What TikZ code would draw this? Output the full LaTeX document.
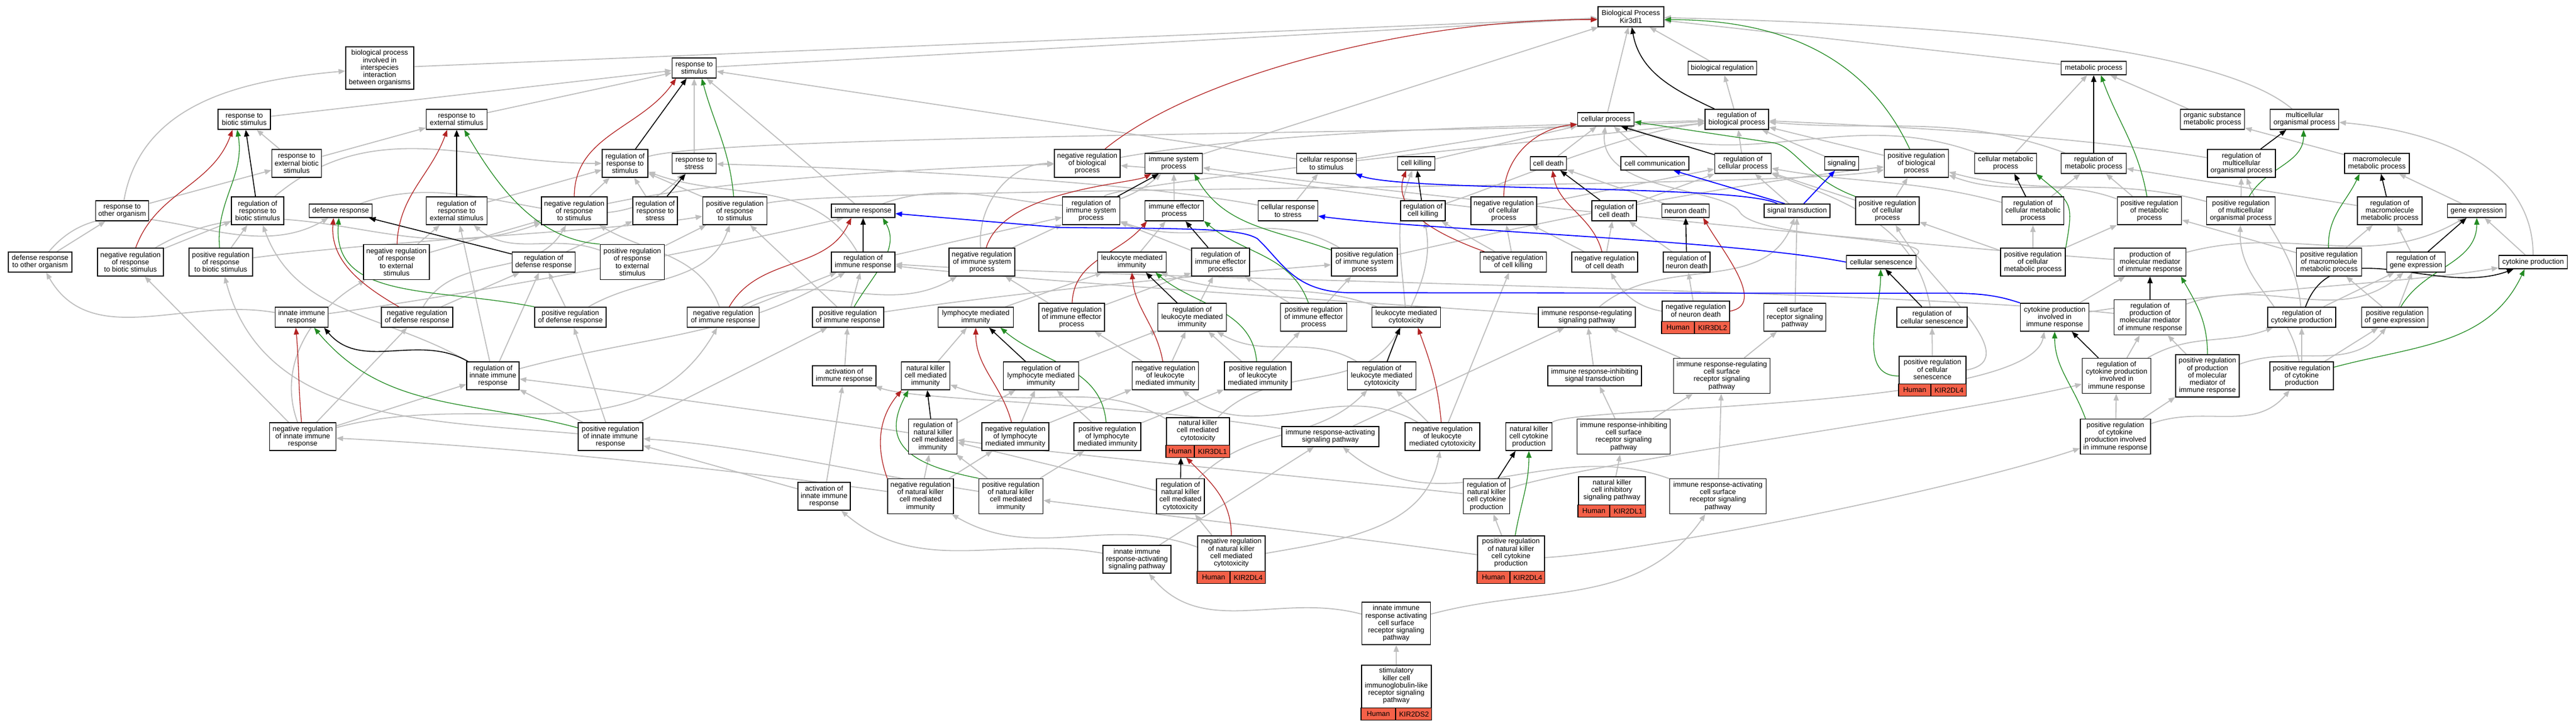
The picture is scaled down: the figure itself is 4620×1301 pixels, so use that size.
\documentclass[tikz,border=0pt]{standalone}
\usepackage{fontspec}
\setmainfont{Liberation Sans}
\usetikzlibrary{arrows.meta,calc}
\definecolor{eg}{RGB}{190,190,190}
\definecolor{er}{RGB}{178,34,34}
\definecolor{egr}{RGB}{34,139,34}
\definecolor{eb}{RGB}{0,0,255}
\definecolor{genered}{RGB}{244,96,72}
\pgfdeclarelayer{bglayer}
\pgfdeclarelayer{edgelayer}
\pgfsetlayers{bglayer,edgelayer,main}
\newcommand\gofont{\fontsize{6.4}{6.65}\selectfont}
\tikzset{
 gobox/.style={draw=black, line width=0.8pt, fill=white, inner sep=0pt, align=center, font=\gofont},
 gotext/.style={inner sep=0pt, align=center, font=\gofont},
 strip/.style={draw=black, line width=0.8pt, fill=genered},
 ge/.style={color=eg, line width=0.9pt, -{Triangle[length=6pt,width=4.6pt]}},
 bk/.style={color=black, line width=0.8pt, -{Triangle[length=6pt,width=4.6pt]}},
 rd/.style={color=er, line width=0.65pt, -{Triangle[length=6pt,width=4.6pt]}},
 gr/.style={color=egr, line width=0.65pt, -{Triangle[length=6pt,width=4.6pt]}},
 bl/.style={color=eb, line width=0.9pt, -{Triangle[length=6pt,width=4.6pt]}},
}
\newcommand\gonode[6]{\node[gobox, minimum width=#4*0.5pt, minimum height=#5*0.5pt] (#1) at (#2,-#3) {#6};}
\newcommand\genenode[8]{%
 \node[gobox, anchor=north west, minimum width=#4*0.5pt, minimum height=(#5+22)*0.5pt] (#1) at (#2,-#3) {};
 \node[gotext] at ($(#1.north)+(0,-#5/2)$) {#7};
 \filldraw[strip] (#1.south west) rectangle ($(#1.south west)+(#6,22)$);
 \filldraw[strip] ($(#1.south west)+(#6,0)$) rectangle ($(#1.south east)+(0,22)$);
 \node[gotext] at ($(#1.south west)+({#6/2},11)$) {Human};
 \node[gotext] at ($(#1.south east)+({-(#4-#6)/2},11)$) {#8};
}
\begin{document}
\begin{tikzpicture}[x=0.5pt,y=0.5pt]
\useasboundingbox (0,0) rectangle (4620,-1301);
\begin{pgfonlayer}{bglayer}\fill[white] (0,0) rectangle (4620,-1301);\end{pgfonlayer}
\gonode{n1}{681}{122}{122}{76}{biological process\\involved in\\interspecies\\interaction\\between organisms}
\gonode{n2}{438}{214}{94}{36}{response to\\biotic stimulus}
\gonode{n3}{819}{214}{109}{36}{response to\\external stimulus}
\gonode{n4}{532}{293}{89}{50}{response to\\external biotic\\stimulus}
\gonode{n5}{219}{378}{95}{36}{response to\\other organism}
\gonode{n6}{462}{378}{94}{50}{regulation of\\response to\\biotic stimulus}
\gonode{n7}{611}{378}{113}{24}{defense response}
\gonode{n8}{819}{378}{109}{50}{regulation of\\response to\\external stimulus}
\gonode{n9}{1030}{378}{118}{50}{negative regulation\\of response\\to stimulus}
\gonode{n10}{1121}{293}{82}{50}{regulation of\\response to\\stimulus}
\gonode{n11}{1175}{378}{80}{50}{regulation of\\response to\\stress}
\gonode{n12}{72}{470}{114}{36}{defense response\\to other organism}
\gonode{n13}{234}{470}{118}{50}{negative regulation\\of response\\to biotic stimulus}
\gonode{n14}{396}{470}{114}{50}{positive regulation\\of response\\to biotic stimulus}
\gonode{n15}{711}{470}{118}{63}{negative regulation\\of response\\to external\\stimulus}
\gonode{n16}{975}{470}{113}{36}{regulation of\\defense response}
\gonode{n17}{1134}{470}{115}{63}{positive regulation\\of response\\to external\\stimulus}
\gonode{n18}{541}{569}{95}{36}{innate immune\\response}
\gonode{n19}{748}{569}{128}{36}{negative regulation\\of defense response}
\gonode{n20}{1023}{569}{128}{36}{positive regulation\\of defense response}
\gonode{n21}{884}{674}{94}{50}{regulation of\\innate immune\\response}
\gonode{n22}{543}{783}{119}{50}{negative regulation\\of innate immune\\response}
\gonode{n23}{1095}{783}{116}{50}{positive regulation\\of innate immune\\response}
\gonode{n24}{1245}{122}{79}{36}{response to\\stimulus}
\gonode{n25}{1245}{293}{79}{36}{response to\\stress}
\gonode{n26}{1318}{378}{115}{50}{positive regulation\\of response\\to stimulus}
\gonode{n27}{1548}{378}{114}{24}{immune response}
\gonode{n28}{1548}{470}{114}{36}{regulation of\\immune response}
\gonode{n29}{1761}{470}{118}{50}{negative regulation\\of immune system\\process}
\gonode{n30}{1950}{293}{118}{50}{negative regulation\\of biological\\process}
\gonode{n31}{2105}{293}{103}{36}{immune system\\process}
\gonode{n32}{1957}{378}{103}{50}{regulation of\\immune system\\process}
\gonode{n33}{2106}{378}{105}{36}{immune effector\\process}
\gonode{n34}{2310}{378}{107}{36}{cellular response\\to stress}
\gonode{n35}{2030}{470}{123}{36}{leukocyte mediated\\immunity}
\gonode{n36}{2189}{470}{104}{50}{regulation of\\immune effector\\process}
\gonode{n37}{1297}{569}{129}{36}{negative regulation\\of immune response}
\gonode{n38}{1521}{569}{128}{36}{positive regulation\\of immune response}
\gonode{n39}{1750}{569}{135}{36}{lymphocyte mediated\\immunity}
\gonode{n40}{1922}{569}{118}{50}{negative regulation\\of immune effector\\process}
\gonode{n41}{2138}{569}{123}{50}{regulation of\\leukocyte mediated\\immunity}
\gonode{n42}{2356}{569}{119}{50}{positive regulation\\of immune effector\\process}
\gonode{n43}{1514}{674}{114}{36}{activation of\\immune response}
\gonode{n44}{1660}{674}{87}{50}{natural killer\\cell mediated\\immunity}
\gonode{n45}{1867}{674}{135}{50}{regulation of\\lymphocyte mediated\\immunity}
\gonode{n46}{2090}{674}{119}{50}{negative regulation\\of leukocyte\\mediated immunity}
\gonode{n47}{2256}{674}{120}{50}{positive regulation\\of leukocyte\\mediated immunity}
\gonode{n48}{1673}{783}{87}{63}{regulation of\\natural killer\\cell mediated\\immunity}
\gonode{n49}{1821}{783}{120}{50}{negative regulation\\of lymphocyte\\mediated immunity}
\gonode{n50}{1986}{783}{120}{50}{positive regulation\\of lymphocyte\\mediated immunity}
\genenode{n51}{2091}{748}{113}{49}{51}{natural killer\\cell mediated\\cytotoxicity}{KIR3DL1}
\gonode{n52}{1478}{890}{94}{50}{activation of\\innate immune\\response}
\gonode{n53}{1651}{890}{118}{63}{negative regulation\\of natural killer\\cell mediated\\immunity}
\gonode{n54}{1813}{890}{115}{63}{positive regulation\\of natural killer\\cell mediated\\immunity}
\gonode{n55}{2117}{890}{86}{63}{regulation of\\natural killer\\cell mediated\\cytotoxicity}
\gonode{n56}{2039}{1003}{122}{50}{innate immune\\response-activating\\signaling pathway}
\genenode{n57}{2147}{960}{121}{63}{59}{negative regulation\\of natural killer\\cell mediated\\cytotoxicity}{KIR2DL4}
\gonode{n58}{2925}{30}{118}{36}{Biological Process\\Kir3dl1}
\gonode{n59}{3089}{122}{123}{24}{biological regulation}
\gonode{n60}{2880}{214}{101}{24}{cellular process}
\gonode{n61}{3115}{214}{114}{36}{regulation of\\biological process}
\gonode{n62}{2379}{293}{107}{36}{cellular response\\to stimulus}
\gonode{n63}{2540}{293}{67}{24}{cell killing}
\gonode{n64}{2777}{293}{65}{24}{cell death}
\gonode{n65}{2968}{293}{122}{24}{cell communication}
\gonode{n66}{3126}{293}{101}{36}{regulation of\\cellular process}
\gonode{n67}{3303}{293}{61}{24}{signaling}
\gonode{n68}{3437}{293}{115}{50}{positive regulation\\of biological\\process}
\gonode{n69}{2552}{378}{80}{36}{regulation of\\cell killing}
\gonode{n70}{2697}{378}{118}{50}{negative regulation\\of cellular\\process}
\gonode{n71}{2895}{378}{80}{36}{regulation of\\cell death}
\gonode{n72}{3023}{378}{85}{24}{neuron death}
\gonode{n73}{3223}{378}{118}{24}{signal transduction}
\gonode{n74}{3385}{378}{114}{50}{positive regulation\\of cellular\\process}
\gonode{n75}{2447}{470}{118}{50}{positive regulation\\of immune system\\process}
\gonode{n76}{2714}{470}{119}{36}{negative regulation\\of cell killing}
\gonode{n77}{2878}{470}{118}{36}{negative regulation\\of cell death}
\gonode{n78}{3025}{470}{84}{36}{regulation of\\neuron death}
\gonode{n79}{3374}{470}{125}{24}{cellular senescence}
\gonode{n80}{2522}{569}{123}{36}{leukocyte mediated\\cytotoxicity}
\gonode{n81}{2846}{569}{174}{36}{immune response-regulating\\signaling pathway}
\genenode{n82}{2980}{539}{121}{36}{59}{negative regulation\\of neuron death}{KIR3DL2}
\gonode{n83}{3219}{569}{111}{50}{cell surface\\receptor signaling\\pathway}
\gonode{n84}{3465}{569}{126}{36}{regulation of\\cellular senescence}
\gonode{n85}{2478}{674}{123}{50}{regulation of\\leukocyte mediated\\cytotoxicity}
\gonode{n86}{2860}{674}{168}{36}{immune response-inhibiting\\signal transduction}
\gonode{n87}{3088}{674}{173}{63}{immune response-regulating\\cell surface\\receptor signaling\\pathway}
\genenode{n88}{3405}{638}{120}{49}{58}{positive regulation\\of cellular\\senescence}{KIR2DL4}
\gonode{n89}{2386}{783}{174}{36}{immune response-activating\\signaling pathway}
\gonode{n90}{2587}{783}{134}{50}{negative regulation\\of leukocyte\\mediated cytotoxicity}
\gonode{n91}{2742}{783}{83}{50}{natural killer\\cell cytokine\\production}
\gonode{n92}{2912}{783}{167}{63}{immune response-inhibiting\\cell surface\\receptor signaling\\pathway}
\gonode{n93}{2666}{890}{83}{63}{regulation of\\natural killer\\cell cytokine\\production}
\genenode{n94}{2830}{854}{120}{50}{57}{natural killer\\cell inhibitory\\signaling pathway}{KIR2DL1}
\gonode{n95}{3081}{890}{173}{63}{immune response-activating\\cell surface\\receptor signaling\\pathway}
\genenode{n96}{2649}{960}{120}{63}{59}{positive regulation\\of natural killer\\cell cytokine\\production}{KIR2DL4}
\gonode{n97}{2504}{1118}{123}{76}{innate immune\\response activating\\cell surface\\receptor signaling\\pathway}
\genenode{n98}{2441}{1192}{125}{76}{62}{stimulatory\\killer cell\\immunoglobulin-like\\receptor signaling\\pathway}{KIR2DS2}
\gonode{n99}{3755}{122}{117}{24}{metabolic process}
\gonode{n100}{3968}{214}{115}{36}{organic substance\\metabolic process}
\gonode{n101}{4133}{214}{123}{36}{multicellular\\organismal process}
\gonode{n102}{3597}{293}{111}{36}{cellular metabolic\\process}
\gonode{n103}{3755}{293}{117}{36}{regulation of\\metabolic process}
\gonode{n104}{4020}{293}{122}{50}{regulation of\\multicellular\\organismal process}
\gonode{n105}{4263}{293}{116}{36}{macromolecule\\metabolic process}
\gonode{n106}{3646}{378}{111}{50}{regulation of\\cellular metabolic\\process}
\gonode{n107}{3855}{378}{115}{50}{positive regulation\\of metabolic\\process}
\gonode{n108}{4019}{378}{123}{50}{positive regulation\\of multicellular\\organismal process}
\gonode{n109}{4286}{378}{116}{50}{regulation of\\macromolecule\\metabolic process}
\gonode{n110}{4442}{378}{105}{24}{gene expression}
\gonode{n111}{3646}{470}{116}{50}{positive regulation\\of cellular\\metabolic process}
\gonode{n112}{3856}{470}{129}{50}{production of\\molecular mediator\\of immune response}
\gonode{n113}{4177}{470}{117}{50}{positive regulation\\of macromolecule\\metabolic process}
\gonode{n114}{4333}{470}{105}{36}{regulation of\\gene expression}
\gonode{n115}{4543}{470}{123}{24}{cytokine production}
\gonode{n116}{3685}{569}{123}{50}{cytokine production\\involved in\\immune response}
\gonode{n117}{3856}{569}{129}{63}{regulation of\\production of\\molecular mediator\\of immune response}
\gonode{n118}{4128}{569}{122}{36}{regulation of\\cytokine production}
\gonode{n119}{4295}{569}{119}{36}{positive regulation\\of gene expression}
\gonode{n120}{3796}{674}{123}{63}{regulation of\\cytokine production\\involved in\\immune response}
\gonode{n121}{3959}{674}{114}{76}{positive regulation\\of production\\of molecular\\mediator of\\immune response}
\gonode{n122}{4128}{674}{114}{50}{positive regulation\\of cytokine\\production}
\gonode{n123}{3794}{783}{126}{63}{positive regulation\\of cytokine\\production involved\\in immune response}

\begin{pgfonlayer}{edgelayer}
% gray edges
\draw[ge] (n1) -- (n58);
\draw[ge] (n24) -- (n58);
\draw[ge] (n2) -- (n24);
\draw[ge] (n3) -- (n24);
\draw[ge] (n4) -- (n2);
\draw[ge] (n4) -- (n3);
\draw[ge] (n5) -- (n4);
\draw[ge] (n5) to[out=80,in=185] (n1);
\draw[ge] (n12) -- (n5);
\draw[ge] (n12) to[out=50,in=-150] (n7);
\draw[ge] (n7) to[out=20,in=-135] (n25);
\draw[ge] (n6) to[out=40,in=180] (n10);
\draw[ge] (n13) -- (n6);
\draw[ge] (n13) to[out=30,in=-160] (n9);
\draw[ge] (n14) -- (n6);
\draw[ge] (n14) .. controls (700,-430) and (1100,-415) .. (n26);
\draw[ge] (n15) -- (n8);
\draw[ge] (n15) -- (n9);
\draw[ge] (n8) -- (n10);
\draw[ge] (n9) -- (n10);
\draw[ge] (n11) -- (n10);
\draw[ge] (n16) -- (n11);
\draw[ge] (n17) to[out=160,in=-40] (n8);
\draw[ge] (n17) -- (n26);
\draw[ge] (n18) .. controls (900,-520) and (1350,-430) .. (n27.-160);
\draw[ge] (n18) to[out=170,in=-60] (n12);
\draw[ge] (n19) -- (n16);
\draw[ge] (n19) to[out=60,in=-120] (n9);
\draw[ge] (n20) -- (n16);
\draw[ge] (n20) to[out=30,in=-110] (n26);
\draw[ge] (n21) to[out=15,in=-150] (n28);
\draw[ge] (n21) -- (n16);
\draw[ge] (n21) -- (n8);
\draw[ge] (n21) to[out=150,in=-70] (n6);
\draw[ge] (n22) -- (n21);
\draw[ge] (n22) to[out=15,in=-120] (n37);
\draw[ge] (n22) -- (n19);
\draw[ge] (n22) -- (n13);
\draw[ge] (n22) to[out=110,in=-150] (n15);
\draw[ge] (n23) -- (n21);
\draw[ge] (n23) -- (n38);
\draw[ge] (n23) -- (n20);
\draw[ge] (n23) to[out=175,in=-75] (n14);
\draw[ge] (n25) -- (n24);
\draw[ge] (n26) -- (n10);
\draw[ge] (n26) .. controls (1500,-335) and (3200,-340) .. (n68);
\draw[ge] (n27) to[out=20,in=-140] (n31);
\draw[ge] (n27) -- (n24);
\draw[ge] (n28) -- (n32);
\draw[ge] (n28) to[out=120,in=-20] (n10);
\draw[ge] (n29) -- (n32);
\draw[ge] (n29) to[out=95,in=180] (n30);
\draw[ge] (n30) .. controls (2300,-230) and (2800,-225) .. (n61);
\draw[ge] (n9) .. controls (1300,-320) and (1700,-300) .. (n30);
\draw[ge] (n10) .. controls (1300,-240) and (2700,-240) .. (n61);
\draw[ge] (n31) -- (n58);
\draw[ge] (n32) .. controls (2000,-330) and (2700,-260) .. (n61);
\draw[ge] (n33) -- (n31);
\draw[ge] (n34) .. controls (2000,-320) and (1500,-300) .. (n25);
\draw[ge] (n34) -- (n62);
\draw[ge] (n35) -- (n33);
\draw[ge] (n36) -- (n32);
\draw[ge] (n37) -- (n28);
\draw[ge] (n37) to[out=30,in=-150] (n29);
\draw[ge] (n37) to[out=110,in=-30] (n9);
\draw[ge] (n38) -- (n28);
\draw[ge] (n38) .. controls (1850,-520) and (2200,-490) .. (n75);
\draw[ge] (n38) -- (n26);
\draw[ge] (n39) -- (n35);
\draw[ge] (n40) -- (n36);
\draw[ge] (n40) -- (n29);
\draw[ge] (n41) -- (n36);
\draw[ge] (n42) -- (n36);
\draw[ge] (n42) -- (n75);
\draw[ge] (n43) -- (n38);
\draw[ge] (n44) -- (n39);
\draw[ge] (n45) -- (n41);
\draw[ge] (n46) -- (n41);
\draw[ge] (n46) -- (n40);
\draw[ge] (n47) -- (n41);
\draw[ge] (n47) -- (n42);
\draw[ge] (n48) -- (n45);
\draw[ge] (n48) .. controls (1400,-740) and (1100,-700) .. (n21);
\draw[ge] (n49) -- (n45);
\draw[ge] (n49) -- (n46);
\draw[ge] (n50) -- (n45);
\draw[ge] (n50) -- (n47);
\draw[ge] (n51) to[out=150,in=-20] (n44);
\draw[ge] (n51) to[out=45,in=-120] (n80);
\draw[ge] (n52) -- (n43);
\draw[ge] (n52) -- (n23);
\draw[ge] (n53) -- (n48);
\draw[ge] (n53) -- (n49);
\draw[ge] (n53) .. controls (1300,-840) and (900,-800) .. (n22);
\draw[ge] (n54) -- (n48);
\draw[ge] (n54) -- (n50);
\draw[ge] (n54) .. controls (1550,-850) and (1350,-800) .. (n23);
\draw[ge] (n55) -- (n48);
\draw[ge] (n55) to[out=45,in=-135] (n85);
\draw[ge] (n56) to[out=170,in=-40] (n52);
\draw[ge] (n56) -- (n89);
\draw[ge] (n57) -- (n55);
\draw[ge] (n57) to[out=160,in=-30] (n53);
\draw[ge] (n57) to[out=10,in=-100] (n90);
\draw[ge] (n59) -- (n58);
\draw[ge] (n60) -- (n58);
\draw[ge] (n61) -- (n59);
\draw[ge] (n62) -- (n24);
\draw[ge] (n62) -- (n60);
\draw[ge] (n63) -- (n60);
\draw[ge] (n64) -- (n60);
\draw[ge] (n65) -- (n60);
\draw[ge] (n66) -- (n61);
\draw[ge] (n67) -- (n61);
\draw[ge] (n68) -- (n61);
\draw[ge] (n69) .. controls (2700,-330) and (2900,-240) .. (n61);
\draw[ge] (n70) -- (n66);
\draw[ge] (n70) .. controls (2450,-350) and (2200,-310) .. (n30);
\draw[ge] (n71) -- (n66);
\draw[ge] (n72) -- (n64);
\draw[ge] (n73) -- (n66);
\draw[ge] (n74) -- (n66);
\draw[ge] (n74) -- (n68);
\draw[ge] (n75) to[out=150,in=-20] (n32);
\draw[ge] (n75) .. controls (2800,-390) and (3100,-330) .. (n68);
\draw[ge] (n76) -- (n69);
\draw[ge] (n76) -- (n70);
\draw[ge] (n77) -- (n71);
\draw[ge] (n77) -- (n70);
\draw[ge] (n78) -- (n71);
\draw[ge] (n79.north east) .. controls (3480,-425) and (3150,-430) .. (3120,-380) .. controls (3090,-335) and (2865,-345) .. (n60.-95);
\draw[ge] (n80) to[out=95,in=-110] (n63.-120);
\draw[ge] (n80) to[out=160,in=-20] (n35);
\draw[ge] (n81) .. controls (2400,-540) and (1800,-500) .. (n28);
\draw[ge] (n81) to[out=40,in=-110] (n73);
\draw[ge] (n82) -- (n78);
\draw[ge] (n82) to[out=170,in=-60] (n77);
\draw[ge] (n83) -- (n73);
\draw[ge] (n84) to[out=100,in=-20] (n66);
\draw[ge] (n85) to[out=150,in=-30] (n41);
\draw[ge] (n85) to[out=70,in=-80] (n69);
\draw[ge] (n86) -- (n81);
\draw[ge] (n87) -- (n81);
\draw[ge] (n87) -- (n83);
\draw[ge] (n88) -- (n84);
\draw[ge] (n88) to[out=10,in=-60] (n74);
\draw[ge] (n89) -- (n81);
\draw[ge] (n89) .. controls (2000,-720) and (1650,-720) .. (n43);
\draw[ge] (n90) -- (n85);
\draw[ge] (n90) to[out=150,in=-40] (n46);
\draw[ge] (n90) -- (n76);
\draw[ge] (n91.north east) .. controls (2820,-728) and (3640,-735) .. (n116.-126);
\draw[ge] (n92) -- (n86);
\draw[ge] (n92) -- (n87);
\draw[ge] (n93) .. controls (2840,-830) and (3500,-745) .. (n120);
\draw[ge] (n93) .. controls (2300,-850) and (1900,-815) .. (n48);
\draw[ge] (n94) -- (n92);
\draw[ge] (n95) -- (n87);
\draw[ge] (n95) to[out=160,in=-40] (n89);
\draw[ge] (n96) -- (n93);
\draw[ge] (n96) .. controls (2400,-960) and (2050,-920) .. (n54);
\draw[ge] (n96) .. controls (2950,-990) and (3500,-880) .. (n123);
\draw[ge] (n97) to[out=165,in=-50] (n56);
\draw[ge] (n97) to[out=15,in=-125] (n95);
\draw[ge] (n98) -- (n97);
\draw[ge] (n99) -- (n58);
\draw[ge] (n100) -- (n99);
\draw[ge] (n101) .. controls (3950,-60) and (3300,-40) .. (n58);
\draw[ge] (n102) -- (n99);
\draw[ge] (n102) to[out=160,in=-20] (n60);
\draw[ge] (n103) to[out=160,in=-5] (n61);
\draw[ge] (n104) .. controls (3700,-240) and (3350,-225) .. (n61);
\draw[ge] (n105) -- (n100);
\draw[ge] (n106) -- (n103);
\draw[ge] (n106) to[out=165,in=-10] (n66);
\draw[ge] (n107) -- (n103);
\draw[ge] (n107) to[out=160,in=-20] (n68);
\draw[ge] (n108) -- (n104);
\draw[ge] (n108) to[out=165,in=-15] (n68);
\draw[ge] (n109) -- (n103);
\draw[ge] (n110) -- (n105);
\draw[ge] (n111) -- (n106);
\draw[ge] (n111) -- (n107);
\draw[ge] (n111) -- (n74);
\draw[ge] (n112) to[out=15,in=-150] (n110);
\draw[ge] (n112) .. controls (3300,-430) and (2350,-330) .. (n31);
\draw[ge] (n113) -- (n109);
\draw[ge] (n113) -- (n107);
\draw[ge] (n114) -- (n109);
\draw[ge] (n115) -- (n110);
\draw[ge] (n115) to[out=90,in=-5] (n101);
\draw[ge] (n116) -- (n112);
\draw[ge] (n116) .. controls (4000,-520) and (4300,-510) .. (n115);
\draw[ge] (n117) .. controls (3400,-520) and (2000,-500) .. (n28);
\draw[ge] (n117) to[out=20,in=-140] (n114);
\draw[ge] (n118) -- (n114);
\draw[ge] (n118) to[out=95,in=-70] (n104);
\draw[ge] (n119) -- (n114);
\draw[ge] (n119) -- (n113);
\draw[ge] (n120) to[out=30,in=-160] (n118);
\draw[ge] (n120) -- (n117);
\draw[ge] (n121) -- (n117);
\draw[ge] (n121) to[out=20,in=-130] (n119);
\draw[ge] (n122) -- (n118);
\draw[ge] (n122) -- (n119);
\draw[ge] (n122) to[out=100,in=-92] (n108);
\draw[ge] (n123) -- (n120);
\draw[ge] (n123) -- (n121);
\draw[ge] (n123) to[out=20,in=-130] (n122);
% black edges
\draw[bk] (n6) -- (n2);
\draw[bk] (n8) -- (n3);
\draw[bk] (n16) -- (n7);
\draw[bk] (n10) -- (n24);
\draw[bk] (n11) -- (n25);
\draw[bk] (n21) to[out=150,in=-50] (n18.-25);
\draw[bk] (n28) -- (n27);
\draw[bk] (n32) -- (n31.-145);
\draw[bk] (n36) -- (n33.-43);
\draw[bk] (n41) -- (n35.-37);
\draw[bk] (n45) -- (n39.-38);
\draw[bk] (n48) -- (n44);
\draw[bk] (n55) -- (n51.-130);
\draw[bk] (n85) -- (n80.-121);
\draw[bk] (n93) -- (n91.-133);
\draw[bk] (n61) to[out=155,in=-80] (n58.-85);
\draw[bk] (n66) -- (n60.-25);
\draw[bk] (n69) -- (n63);
\draw[bk] (n71) -- (n64.-31);
\draw[bk] (n78) -- (n72);
\draw[bk] (n84) -- (n79.-60);
\draw[bk] (n103) -- (n99);
\draw[bk] (n106) -- (n102.-50);
\draw[bk] (n104) -- (n101.-150);
\draw[bk] (n109) -- (n105.-69);
\draw[bk] (n114) -- (n110.-145);
\draw[bk] (n118) to[out=70,in=-160] (n115);
\draw[bk] (n117) -- (n112);
\draw[bk] (n120) -- (n116.-40);
% red edges
\draw[rd] (n13) to[out=70,in=-110] (n2.-138);
\draw[rd] (n15) to[out=88,in=-110] (n3.-132);
\draw[rd] (n19) to[out=150,in=-95] (n7.-135);
\draw[rd] (n9) to[out=90,in=-125] (n24.-150);
\draw[rd] (n22) to[out=95,in=-85] (n18.-119);
\draw[rd] (n37) to[out=60,in=-115] (n27.-149);
\draw[rd] (n29) .. controls (1800,-340) and (2030,-330) .. (n31.-155);
\draw[rd] (n30) .. controls (2150,-130) and (2550,-33) .. (n58.-175);
\draw[rd] (n40) to[out=88,in=-130] (n33.-159);
\draw[rd] (n46) to[out=100,in=-85] (n35.south);
\draw[rd] (n49) to[out=105,in=-90] (n39.south);
\draw[rd] (n53.north west) to[out=110,in=-130] (n44.-149);
\draw[rd] (n57) to[out=90,in=-45] (n51.-120);
\draw[rd] (n90) to[out=95,in=-70] (n80.-42);
\draw[rd] (n70) to[out=90,in=185] (n60.-170);
\draw[rd] (n76) to[out=160,in=-110] (n63.-145);
\draw[rd] (n77) to[out=105,in=-80] (n64.-60);
\draw[rd] (n82) to[out=10,in=-60] (n72.-22);
% green edges
\draw[gr] (n14) to[out=95,in=-80] (n2.-124);
\draw[gr] (n17.north west) .. controls (960,-430) and (890,-330) .. (n3.-54);
\draw[gr] (n20.north west) .. controls (780,-515) and (595,-540) .. (n7.-104);
\draw[gr] (n26) to[out=95,in=-75] (n24.-54);
\draw[gr] (n23) to[out=165,in=-50] (n18.-40);
\draw[gr] (n38) to[out=60,in=-60] (n27.-20);
\draw[gr] (n75) to[out=160,in=-60] (n31.-27);
\draw[gr] (n68) to[out=115,in=0] (n58.-5);
\draw[gr] (n74.north west) .. controls (3240,-320) and (3220,-262) .. (3180,-256) -- (n60.-5);
\draw[gr] (n42) to[out=110,in=-40] (n33.-19);
\draw[gr] (n47) to[out=95,in=-40] (n35.-24);
\draw[gr] (n50) to[out=95,in=-40] (n39.-23);
\draw[gr] (n54.north west) .. controls (1640,-835) and (1575,-800) .. (n44.-140);
\draw[gr] (n96) to[out=80,in=-90] (n91.south);
\draw[gr] (n88) to[out=180,in=-90] (n79.-95);
\draw[gr] (n107) to[out=100,in=-70] (n99.-45);
\draw[gr] (n111.north east) to[out=80,in=-40,looseness=1.5] (n102.-19);
\draw[gr] (n108) to[out=60,in=-90] (n101.-95);
\draw[gr] (n113) to[out=92,in=-115] (n105.-149);
\draw[gr] (n119) to[out=60,in=-90] (n110.south);
\draw[gr] (n122) to[out=15,in=-115] (n115.-140);
\draw[gr] (n121) to[out=90,in=-60] (n112.-25);
\draw[gr] ($(n123.north west)+(10,0)$) to[out=110,in=-90] (n116.south);
% blue edges
\draw[bl] (n116.north west) .. controls (3560,-522) and (3520,-526) .. (3400,-526) -- (2420,-525) .. controls (2320,-523) and (2300,-470) .. (2255,-428) .. controls (2225,-410) and (2150,-410) .. (1900,-408) -- (n27.-5);
\draw[bl] (n73.160) .. controls (3120,-330) and (2520,-345) .. (n62.-20);
\draw[bl] (n73.150) -- (n65.-21);
\draw[bl] (n73) -- (n67);
\draw[bl] (n79.west) .. controls (3100,-430) and (2550,-412) .. (n34.-10);
\end{pgfonlayer}
\end{tikzpicture}
\end{document}
